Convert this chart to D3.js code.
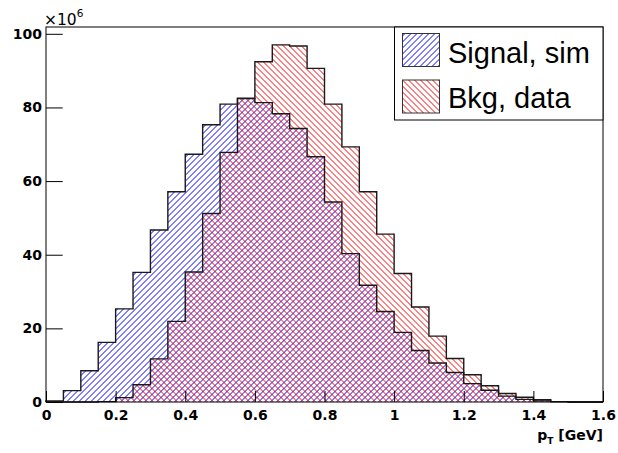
<!DOCTYPE html>
<html><head><meta charset="utf-8">
<script src="https://cdn.jsdelivr.net/npm/d3@7"></script>
<style>
html,body{margin:0;padding:0;background:#fff;}
svg{display:block;}
</style></head>
<body><svg id="c" width="618" height="453"></svg>
<script>
// bin low edges (GeV), bin width 0.05
const binEdges = [0,0.05,0.1,0.15,0.2,0.25,0.3,0.35,0.4,0.45,0.5,0.55,0.6,0.65,0.7,0.75,0.8,0.85,0.9,0.95,1.0,1.05,1.1,1.15,1.2,1.25,1.3,1.35,1.4,1.45,1.5,1.55,1.6];
// values in units of 1e6
const signalSim = [0.3,3.1,8.5,16.2,25.3,35.2,46.7,57.1,67.3,75.3,80.9,82.4,81.3,78.3,74.3,66.6,54.3,40.3,31.7,24.6,18.9,14.0,10.6,8.0,5.0,3.2,1.6,0.7,0.3,0.1,0,0];
const bkgData   = [0,0,0,0.1,1.2,4.7,11.7,21.9,35.3,51.2,67.8,82.5,92.4,97.0,96.7,90.6,80.9,69.3,57.1,45.6,34.9,25.8,17.9,11.8,7.4,4.4,2.3,1.3,0.6,0.1,0,0];
const xMajorTicks = [0,0.2,0.4,0.6,0.8,1.0,1.2,1.4,1.6];
const xMajorLabels = ["0","0.2","0.4","0.6","0.8","1","1.2","1.4","1.6"];
const yMajorTicks = [0,20,40,60,80,100];
const yMajorLabels = ["0","20","40","60","80","100"];
const legendLabels = ["Signal, sim","Bkg, data"];

const svg = d3.select("#c");
const L=46, R=603, T=27, B=402;
const yMax = d3.max(bkgData.concat(signalSim))*1.05;
const x = d3.scaleLinear().domain([0,1.6]).range([L,R]);
const y = d3.scaleLinear().domain([0,yMax]).range([B,T]);
const defs = svg.append("defs");

svg.append("rect").attr("width",618).attr("height",453).attr("fill","#fff");

// hatch: 45-degree lines inside a clip region, phased onto half-pixel diagonals
function hatchInto(g, x0, y0, x1, y1, color, dir){
  const p = 6, H = y1 - y0;
  const off = (((0.5 - (y0 % 1)) % 1) + 1) % 1;
  let d = "";
  for(let a = Math.floor((x0 - H)/p)*p + off; a <= x1 + p; a += p){
    if(dir==="/") d += `M${a},${y1}L${a+H},${y0}`;
    else d += `M${a},${y0}L${a+H},${y1}`;
  }
  g.append("path").attr("d",d).attr("stroke",color).attr("stroke-width",1).attr("fill","none");
}

function stepPts(vals){
  const pts=[[binEdges[0],0]];
  vals.forEach((v,i)=>{pts.push([binEdges[i],v]);pts.push([binEdges[i+1],v]);});
  pts.push([binEdges[binEdges.length-1],0]);
  return pts;
}
const area = d3.area().x(d=>x(d[0])).y0(y(0)).y1(d=>y(d[1]));
const line = d3.line().x(d=>x(d[0])).y(d=>y(d[1]));

const hists = [
  {vals: signalSim, id:"clipSig", color:"#0000ff", dir:"/"},
  {vals: bkgData,   id:"clipBkg", color:"#ff0000", dir:"\\"}
];
hists.forEach(h=>{
  defs.append("clipPath").attr("id",h.id).append("path").attr("d",area(stepPts(h.vals)));
  const g = svg.append("g").attr("clip-path",`url(#${h.id})`);
  hatchInto(g, L, T, R, B, h.color, h.dir);
});
hists.forEach(h=>{
  svg.append("path").attr("d",line(stepPts(h.vals))).attr("fill","none")
    .attr("stroke","#1a1a1a").attr("stroke-width",1.4);
});

// axes
const fontAx = "'DejaVu Sans', sans-serif";
const gx = svg.append("g").attr("transform",`translate(0,${B})`);
gx.call(d3.axisBottom(x).tickValues(binEdges).tickSize(-5.5).tickFormat(""));
gx.call(d3.axisBottom(x).tickValues(xMajorTicks).tickSize(-11).tickPadding(8)
  .tickFormat((d,i)=>xMajorLabels[i]));
gx.selectAll(".domain").remove();
gx.selectAll("line").attr("stroke","#000");
gx.selectAll("text").attr("font-family",fontAx).attr("font-weight","bold").attr("font-size",14).attr("fill","#000");

const yMinor=[];for(let v=0;v<=100;v+=5)yMinor.push(v);
const gy = svg.append("g").attr("transform",`translate(${L},0)`);
gy.call(d3.axisLeft(y).tickValues(yMinor).tickSize(-8.4).tickFormat(""));
gy.call(d3.axisLeft(y).tickValues(yMajorTicks).tickSize(-16.7).tickPadding(4)
  .tickFormat((d,i)=>yMajorLabels[i]));
gy.selectAll(".domain").remove();
gy.selectAll("line").attr("stroke","#000");
gy.selectAll("text").attr("font-family",fontAx).attr("font-weight","bold").attr("font-size",14).attr("fill","#000");

// frame
svg.append("rect").attr("x",L).attr("y",T).attr("width",R-L).attr("height",B-T)
  .attr("fill","none").attr("stroke","#000").attr("stroke-width",1);

// exponent
const ex = svg.append("text").attr("x",44).attr("y",25).attr("font-family",fontAx)
  .attr("font-size",15.5).attr("fill","#000");
ex.append("tspan").text("\u00d710");
ex.append("tspan").attr("dy",-8).attr("font-size",10.5).text("6");

// x title
const xt = svg.append("text").attr("x",R).attr("y",440).attr("text-anchor","end")
  .attr("font-family",fontAx).attr("font-weight","bold").attr("font-size",14).attr("fill","#000");
xt.append("tspan").text("p");
xt.append("tspan").attr("dy",4).attr("font-size",9).text("T");
xt.append("tspan").attr("dy",-4).text(" [GeV]");

// legend
const lg = svg.append("g");
lg.append("rect").attr("x",394.5).attr("y",T).attr("width",R-394.5).attr("height",93)
  .attr("fill","#fff").attr("stroke","#000").attr("stroke-width",1);
hists.forEach((h,i)=>{
  const sx = 402.5, sy = 33.5 + i*46.5, sw = 37, sh = 33;
  const cid = "clipLeg"+i;
  defs.append("clipPath").attr("id",cid).append("rect").attr("x",sx).attr("y",sy).attr("width",sw).attr("height",sh);
  const g = lg.append("g").attr("clip-path",`url(#${cid})`);
  hatchInto(g, sx, sy, sx+sw, sy+sh, h.color, h.dir);
  lg.append("rect").attr("x",sx).attr("y",sy).attr("width",sw).attr("height",sh)
    .attr("fill","none").attr("stroke","#333").attr("stroke-width",1);
  lg.append("text").attr("x",448).attr("y",62.7+i*45.6).attr("font-family","'Liberation Sans', Arial, sans-serif")
    .attr("font-size",29).attr("fill","#000").text(legendLabels[i]);
});
</script></body></html>
